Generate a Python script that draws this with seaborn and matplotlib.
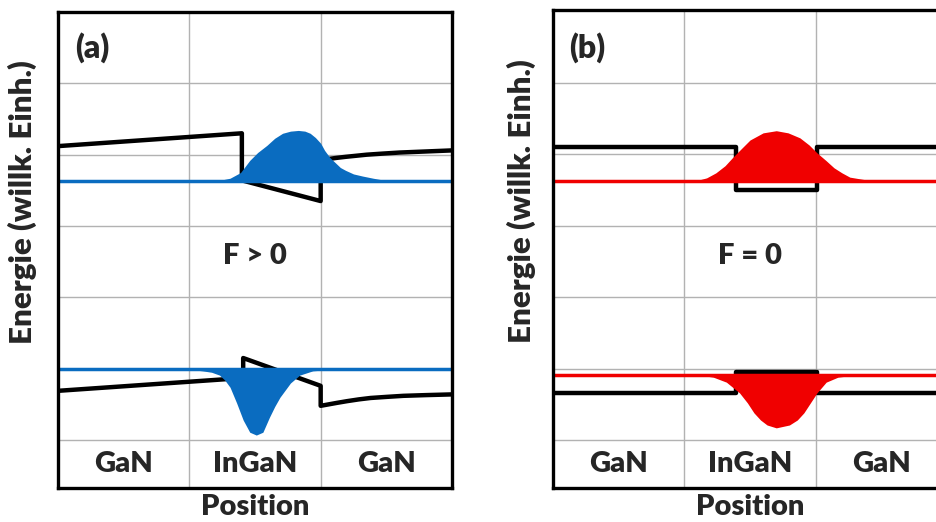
import matplotlib
matplotlib.use("Agg")
import matplotlib.pyplot as plt
import pandas as pd
import seaborn as sns

# Layer stack along the growth direction (one column per layer)
layers = ["GaN", "InGaN", "GaN"]
layer_centers = [0.5, 1.5, 2.5]

# ---- (a) with polarisation field, F > 0 ----
cb_a_x = [0.00, 1.40, 1.40, 2.00, 2.00, 2.06, 2.12, 2.19, 2.27, 2.35, 2.47,
          2.60, 2.80, 3.00]
cb_a_y = [4.12, 4.30, 3.64, 3.35, 3.92, 3.94, 3.955, 3.97, 3.985, 4.00,
          4.015, 4.03, 4.045, 4.06]
vb_a_x = [0.00, 1.41, 1.41, 2.00, 2.00, 2.06, 2.12, 2.20, 2.29, 2.38, 2.50,
          2.63, 2.80, 3.00]
vb_a_y = [0.69, 0.87, 1.15, 0.76, 0.48, 0.50, 0.52, 0.545, 0.57, 0.59, 0.605,
          0.62, 0.63, 0.64]
e_level_a = 3.63
h_level_a = 0.99
psi_e_a_x = [1.16, 1.23, 1.31, 1.39, 1.46, 1.52, 1.59, 1.65, 1.71, 1.77, 1.83,
             1.88, 1.92, 1.96, 2.00, 2.03, 2.07, 2.11, 2.15, 2.19, 2.25, 2.32,
             2.40, 2.49, 2.60]
psi_e_a_y = [3.63, 3.64, 3.67, 3.75, 3.92, 4.03, 4.13, 4.23, 4.30, 4.33, 4.34,
             4.33, 4.30, 4.24, 4.16, 4.06, 3.96, 3.89, 3.82, 3.78, 3.73, 3.70,
             3.67, 3.64, 3.63]
psi_h_a_x = [1.01, 1.10, 1.17, 1.23, 1.27, 1.31, 1.36, 1.41, 1.46, 1.51, 1.56,
             1.61, 1.65, 1.69, 1.77, 1.84, 1.94, 2.07]
psi_h_a_y = [0.99, 0.97, 0.95, 0.91, 0.84, 0.74, 0.52, 0.28, 0.11, 0.07, 0.11,
             0.32, 0.47, 0.60, 0.80, 0.91, 0.97, 0.99]

# ---- (b) without field, F = 0 ----
cb_b_x = [0.00, 1.39, 1.39, 2.01, 2.01, 3.00]
cb_b_y = [4.10, 4.10, 3.50, 3.50, 4.10, 4.10]
vb_b_x = [0.00, 1.39, 1.39, 2.01, 2.01, 3.00]
vb_b_y = [0.66, 0.66, 0.95, 0.95, 0.66, 0.66]
e_level_b = 3.63
h_level_b = 0.91
psi_e_b_x = [1.09, 1.17, 1.24, 1.31, 1.37, 1.44, 1.50, 1.60, 1.70, 1.79, 1.88,
             1.95, 2.01, 2.08, 2.14, 2.20, 2.26, 2.39, 2.57]
psi_e_b_y = [3.63, 3.67, 3.74, 3.84, 3.96, 4.09, 4.20, 4.30, 4.33, 4.30, 4.23,
             4.13, 4.02, 3.91, 3.81, 3.74, 3.68, 3.64, 3.63]
psi_h_b_x = [1.11, 1.22, 1.32, 1.42, 1.48, 1.53, 1.58, 1.63, 1.70, 1.80, 1.86,
             1.91, 1.96, 2.01, 2.08, 2.17, 2.26, 2.42]
psi_h_b_y = [0.91, 0.88, 0.81, 0.66, 0.52, 0.38, 0.28, 0.21, 0.17, 0.21, 0.28,
             0.38, 0.52, 0.66, 0.81, 0.88, 0.90, 0.91]

panel_tags = ["(a)", "(b)"]
field_labels = ["F > 0", "F = 0"]
ylabel_text = "Energie (willk. Einh.)"
xlabel_text = "Position"

sns.set_style("whitegrid", {"grid.color": "#b2b2b2", "axes.edgecolor": "black"})
plt.rcParams["font.family"] = ["Lato", "DejaVu Sans"]

FS = 21
W = "heavy"
fig = plt.figure(figsize=(9.36, 5.22), dpi=100)
ax_a = fig.add_axes([58 / 936, 1 - 488 / 522, 394 / 936, 476 / 522])
ax_b = fig.add_axes([553 / 936, 1 - 488 / 522, 394 / 936, 478 / 522])

panels = [
    (ax_a, cb_a_x, cb_a_y, vb_a_x, vb_a_y, e_level_a, h_level_a,
     psi_e_a_x, psi_e_a_y, psi_h_a_x, psi_h_a_y, "#0A6CC0", (-0.672, 6.0), -0.054),
    (ax_b, cb_b_x, cb_b_y, vb_b_x, vb_b_y, e_level_b, h_level_b,
     psi_e_b_x, psi_e_b_y, psi_h_b_x, psi_h_b_y, "#F00000", (-0.672, 6.02), -0.044),
]

for i, (ax, cbx, cby, vbx, vby, el, hl, pex, pey, phx, phy, col, ylim, ylx) in enumerate(panels):
    # band edges
    for bx, by in [(cbx, cby), (vbx, vby)]:
        sns.lineplot(x=bx, y=by, sort=False, estimator=None, color="black",
                     lw=3.2, ax=ax, zorder=2)
    # confined levels across the whole structure
    levels = pd.DataFrame({"x": [0, 3, 0, 3], "E": [el, el, hl, hl],
                           "band": ["e", "e", "h", "h"]})
    sns.lineplot(data=levels, x="x", y="E", units="band", estimator=None,
                 color=col, lw=2.5, ax=ax, zorder=4)
    # electron and hole probability densities
    ax.fill_between(pex, el, pey, color=col, lw=0, zorder=3)
    ax.fill_between(phx, hl, phy, color=col, lw=0, zorder=3)

    ax.set_xlim(0, 3)
    ax.set_ylim(*ylim)
    ax.set_xticks([1, 2])
    ax.set_yticks([0, 1, 2, 3, 4, 5])
    ax.set_xticklabels([])
    ax.set_yticklabels([])
    ax.tick_params(length=0)
    ax.grid(True, lw=1.0, color="#b2b2b2")
    for s in ax.spines.values():
        s.set_linewidth(2.4)
        s.set_color("black")
        s.set_zorder(5)

    for c, name in zip(layer_centers, layers):
        ax.text(c, -0.336, name, ha="center", va="center", fontsize=FS,
                fontweight=W)
    ax.text(1.5, 2.58, field_labels[i], ha="center", va="center", fontsize=FS,
            fontweight=W)
    ax.text(0.26, 5.5, panel_tags[i], ha="center", va="center", fontsize=FS + 2,
            fontweight=W)
    ax.set_xlabel(xlabel_text, fontsize=FS, fontweight=W, labelpad=1)
    ax.set_ylabel(ylabel_text, fontsize=FS + 1.5, fontweight=W)
    ax.yaxis.set_label_coords(ylx, 0.60)

fig.savefig("out.png", dpi=100, facecolor="white")
